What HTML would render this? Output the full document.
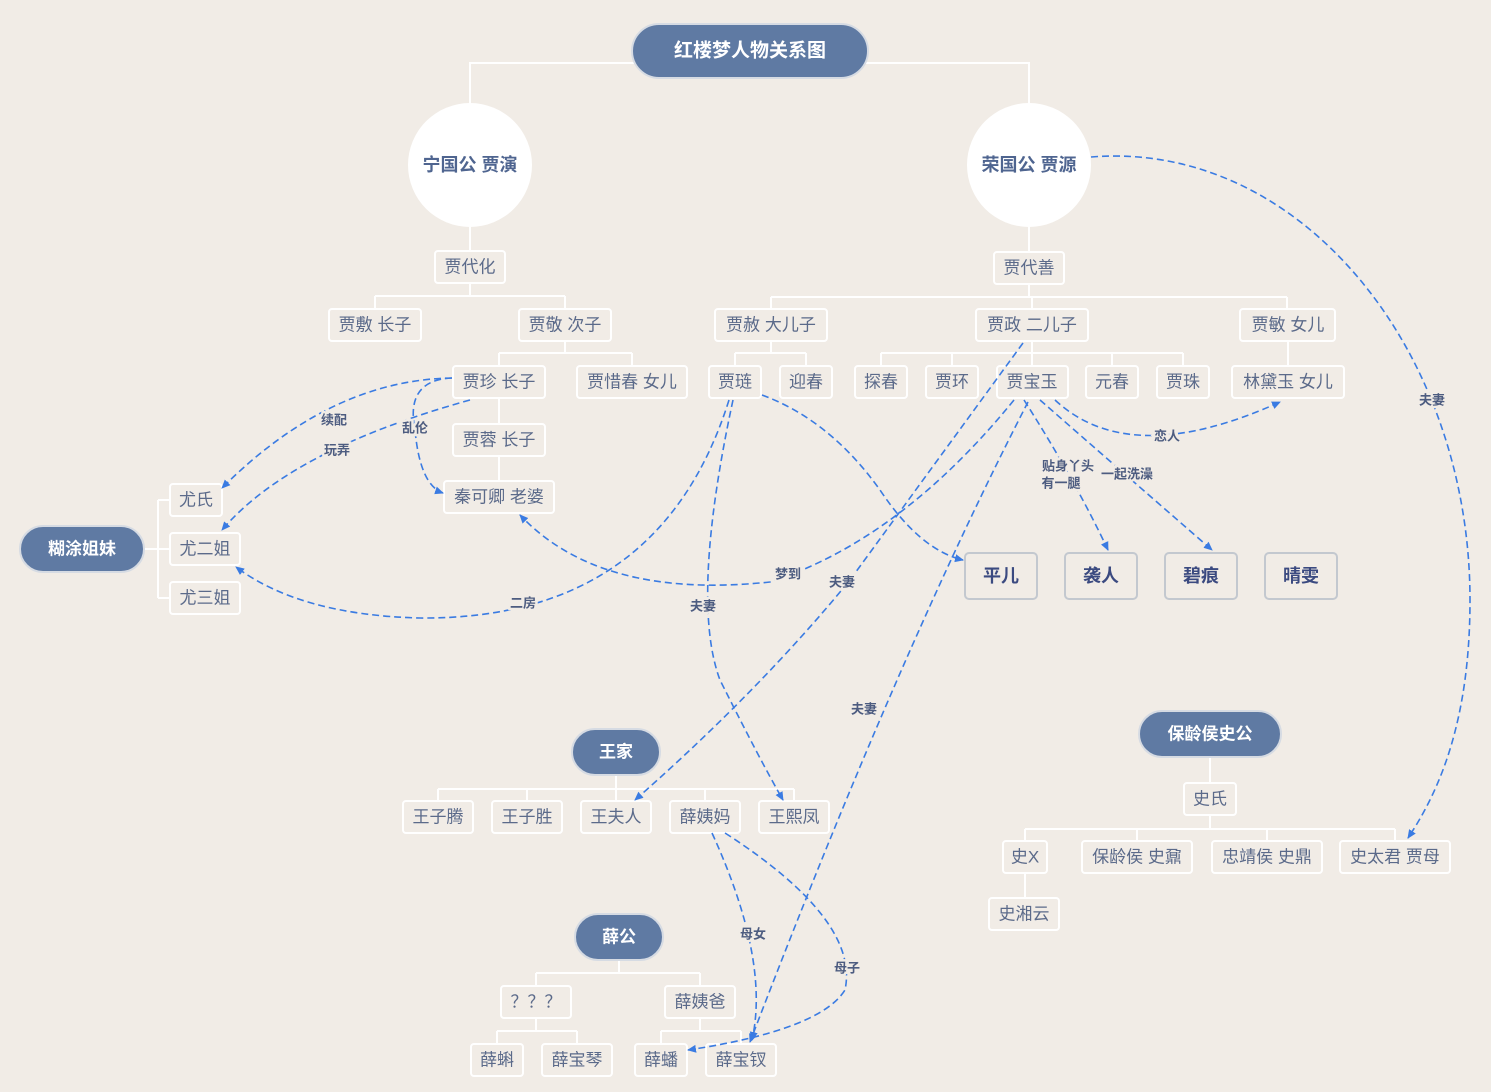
<!DOCTYPE html>
<html><head><meta charset="utf-8"><style>
html,body{margin:0;padding:0;background:#f1ece6;}
svg{display:block;font-family:"Liberation Sans","Noto Sans CJK SC",sans-serif;}
.b{fill:#f1ece6;stroke:#fff;stroke-width:2;}
.t{fill:#5b6a8a;font-size:17px;text-anchor:middle;dominant-baseline:central;}
.big{fill:#f1ece6;stroke:#c3c8cf;stroke-width:2;}
.bt{fill:#3b4a80;font-size:18px;font-weight:bold;text-anchor:middle;dominant-baseline:central;}
.hd{fill:#5f7aa3;stroke:#d6dbe3;stroke-width:2;}
.ht{fill:#fff;font-size:19px;font-weight:bold;text-anchor:middle;dominant-baseline:central;}
.ln{stroke:#fff;stroke-width:2;fill:none;}
.d{stroke:#3a7be2;stroke-width:1.6;fill:none;stroke-dasharray:7,4;}
.lb{fill:#4d5c80;font-size:13px;font-weight:bold;text-anchor:middle;dominant-baseline:central;paint-order:stroke;stroke:#f1ece6;stroke-width:5px;}
</style></head><body>
<svg width="1491" height="1092" viewBox="0 0 1491 1092">
<defs><marker id="a" markerWidth="10" markerHeight="10" refX="8" refY="5" orient="auto" markerUnits="userSpaceOnUse"><path d="M0,1 L9,5 L0,9 Z" fill="#3a7be2"/></marker></defs>
<!-- tree lines -->
<g class="ln">
<path d="M470,103 V63 H1029 V103"/>
<path d="M470,227 V251 M470,283 V296 M375,296 H565 M375,296 V309 M565,296 V309"/>
<path d="M1029,227 V252 M1029,284 V297 M771,297 H1287 M771,297 V309 M1032,297 V309 M1287,297 V309"/>
<path d="M565,341 V353 M499,353 H632 M499,353 V366 M632,353 V366"/>
<path d="M771,341 V353 M735,353 H806 M735,353 V366 M806,353 V366"/>
<path d="M1032,341 V353 M881,353 H1183 M881,353 V366 M952,353 V366 M1032,353 V366 M1112,353 V366 M1183,353 V366"/>
<path d="M1288,341 V366"/>
<path d="M499,398 V424 M499,456 V481"/>
<path d="M144,549 H158 M158,500 V598 M158,500 H170 M158,549 H170 M158,598 H170"/>
<path d="M616,775 V789 M438,789 H794 M438,789 V801 M527,789 V801 M616,789 V801 M705,789 V801 M794,789 V801"/>
<path d="M1210,757 V783 M1210,815 V829 M1025,829 H1395 M1025,829 V841 M1137,829 V841 M1267,829 V841 M1395,829 V841 M1025,873 V898"/>
<path d="M619,960 V973 M536,973 H700 M536,973 V986 M700,973 V986 M536,1018 V1031 M497,1031 H577 M497,1031 V1044 M577,1031 V1044 M700,1018 V1031 M661,1031 H741 M661,1031 V1044 M741,1031 V1044"/>
</g>
<!-- headers -->
<rect class="hd" x="632" y="24" width="236" height="54" rx="27"/><text class="ht" x="750" y="51">红楼梦人物关系图</text>
<circle cx="470" cy="165" r="62" fill="#fff"/><text x="470" y="165" fill="#4f6590" font-size="18" font-weight="bold" text-anchor="middle" dominant-baseline="central">宁国公 贾演</text>
<circle cx="1029" cy="165" r="62" fill="#fff"/><text x="1029" y="165" fill="#4f6590" font-size="18" font-weight="bold" text-anchor="middle" dominant-baseline="central">荣国公 贾源</text>
<rect class="hd" x="20" y="526" width="124" height="46" rx="23"/><text class="ht" x="82" y="549" style="font-size:17px">糊涂姐妹</text>
<rect class="hd" x="572" y="729" width="88" height="46" rx="23"/><text class="ht" x="616" y="752" style="font-size:17px">王家</text>
<rect class="hd" x="1139" y="711" width="142" height="46" rx="23"/><text class="ht" x="1210" y="734" style="font-size:17px">保龄侯史公</text>
<rect class="hd" x="575" y="914" width="88" height="46" rx="23"/><text class="ht" x="619" y="937" style="font-size:17px">薛公</text>
<!-- boxes -->
<g>
<rect class="b" x="435" y="251" width="70" height="32" rx="3"/><text class="t" x="470" y="267">贾代化</text>
<rect class="b" x="994" y="252" width="70" height="32" rx="3"/><text class="t" x="1029" y="268">贾代善</text>
<rect class="b" x="329" y="309" width="92" height="32" rx="3"/><text class="t" x="375" y="325">贾敷 长子</text>
<rect class="b" x="519" y="309" width="92" height="32" rx="3"/><text class="t" x="565" y="325">贾敬 次子</text>
<rect class="b" x="715" y="309" width="112" height="32" rx="3"/><text class="t" x="771" y="325">贾赦 大儿子</text>
<rect class="b" x="976" y="309" width="112" height="32" rx="3"/><text class="t" x="1032" y="325">贾政 二儿子</text>
<rect class="b" x="1240" y="309" width="95" height="32" rx="3"/><text class="t" x="1288" y="325">贾敏 女儿</text>
<rect class="b" x="453" y="366" width="92" height="32" rx="3"/><text class="t" x="499" y="382">贾珍 长子</text>
<rect class="b" x="577" y="366" width="110" height="32" rx="3"/><text class="t" x="632" y="382">贾惜春 女儿</text>
<rect class="b" x="709" y="366" width="52" height="32" rx="3"/><text class="t" x="735" y="382">贾琏</text>
<rect class="b" x="780" y="366" width="52" height="32" rx="3"/><text class="t" x="806" y="382">迎春</text>
<rect class="b" x="855" y="366" width="52" height="32" rx="3"/><text class="t" x="881" y="382">探春</text>
<rect class="b" x="926" y="366" width="52" height="32" rx="3"/><text class="t" x="952" y="382">贾环</text>
<rect class="b" x="997" y="366" width="71" height="32" rx="3"/><text class="t" x="1032" y="382">贾宝玉</text>
<rect class="b" x="1086" y="366" width="52" height="32" rx="3"/><text class="t" x="1112" y="382">元春</text>
<rect class="b" x="1157" y="366" width="52" height="32" rx="3"/><text class="t" x="1183" y="382">贾珠</text>
<rect class="b" x="1232" y="366" width="112" height="32" rx="3"/><text class="t" x="1288" y="382">林黛玉 女儿</text>
<rect class="b" x="453" y="424" width="92" height="32" rx="3"/><text class="t" x="499" y="440">贾蓉 长子</text>
<rect class="b" x="444" y="481" width="110" height="32" rx="3"/><text class="t" x="499" y="497">秦可卿 老婆</text>
<rect class="b" x="170" y="484" width="52" height="32" rx="3"/><text class="t" x="196" y="500">尤氏</text>
<rect class="b" x="170" y="533" width="70" height="32" rx="3"/><text class="t" x="205" y="549">尤二姐</text>
<rect class="b" x="170" y="582" width="70" height="32" rx="3"/><text class="t" x="205" y="598">尤三姐</text>
<rect class="b" x="403" y="801" width="70" height="32" rx="3"/><text class="t" x="438" y="817">王子腾</text>
<rect class="b" x="492" y="801" width="70" height="32" rx="3"/><text class="t" x="527" y="817">王子胜</text>
<rect class="b" x="581" y="801" width="70" height="32" rx="3"/><text class="t" x="616" y="817">王夫人</text>
<rect class="b" x="670" y="801" width="70" height="32" rx="3"/><text class="t" x="705" y="817">薛姨妈</text>
<rect class="b" x="759" y="801" width="70" height="32" rx="3"/><text class="t" x="794" y="817">王熙凤</text>
<rect class="b" x="1184" y="783" width="52" height="32" rx="3"/><text class="t" x="1210" y="799">史氏</text>
<rect class="b" x="1003" y="841" width="44" height="32" rx="3"/><text class="t" x="1025" y="857">史X</text>
<rect class="b" x="1082" y="841" width="110" height="32" rx="3"/><text class="t" x="1137" y="857">保龄侯 史鼐</text>
<rect class="b" x="1212" y="841" width="110" height="32" rx="3"/><text class="t" x="1267" y="857">忠靖侯 史鼎</text>
<rect class="b" x="1340" y="841" width="110" height="32" rx="3"/><text class="t" x="1395" y="857">史太君 贾母</text>
<rect class="b" x="989" y="898" width="70" height="32" rx="3"/><text class="t" x="1024" y="914">史湘云</text>
<rect class="b" x="501" y="986" width="70" height="32" rx="3"/><text class="t" x="536" y="1002">？？？</text>
<rect class="b" x="665" y="986" width="70" height="32" rx="3"/><text class="t" x="700" y="1002">薛姨爸</text>
<rect class="b" x="471" y="1044" width="52" height="32" rx="3"/><text class="t" x="497" y="1060">薛蝌</text>
<rect class="b" x="542" y="1044" width="70" height="32" rx="3"/><text class="t" x="577" y="1060">薛宝琴</text>
<rect class="b" x="635" y="1044" width="52" height="32" rx="3"/><text class="t" x="661" y="1060">薛蟠</text>
<rect class="b" x="706" y="1044" width="70" height="32" rx="3"/><text class="t" x="741" y="1060">薛宝钗</text>
<rect class="big" x="965" y="553" width="72" height="46" rx="4"/><text class="bt" x="1001" y="576">平儿</text>
<rect class="big" x="1065" y="553" width="72" height="46" rx="4"/><text class="bt" x="1101" y="576">袭人</text>
<rect class="big" x="1165" y="553" width="72" height="46" rx="4"/><text class="bt" x="1201" y="576">碧痕</text>
<rect class="big" x="1265" y="553" width="72" height="46" rx="4"/><text class="bt" x="1301" y="576">晴雯</text>
</g>
<!-- dashed relations -->
<g class="d">
<path marker-end="url(#a)" d="M1091,157 C1300,140 1470,350 1470,600 C1470,720 1440,790 1408,838"/>
<path marker-end="url(#a)" d="M452,378 Q330,380 222,488"/>
<path marker-end="url(#a)" d="M470,400 Q290,450 222,530"/>
<path marker-end="url(#a)" d="M452,378 Q405,380 415,430 Q420,485 443,493"/>
<path marker-end="url(#a)" d="M729,400 Q660,620 420,618 Q300,615 236,567"/>
<path marker-end="url(#a)" d="M733,400 Q690,600 720,680 Q760,760 783,800"/>
<path marker-end="url(#a)" d="M762,395 Q830,420 880,490 Q920,550 963,560"/>
<path marker-end="url(#a)" d="M1023,343 L850,580 Q760,690 635,800"/>
<path marker-end="url(#a)" d="M1014,400 Q900,540 770,582 Q600,600 520,515"/>
<path marker-end="url(#a)" d="M1028,402 Q900,650 750,1042"/>
<path marker-end="url(#a)" d="M1024,400 Q1075,480 1108,550"/>
<path marker-end="url(#a)" d="M1040,400 Q1120,470 1212,550"/>
<path marker-end="url(#a)" d="M1055,400 Q1130,470 1280,402"/>
<path marker-end="url(#a)" d="M712,833 Q770,960 752,1040"/>
<path marker-end="url(#a)" d="M725,833 Q860,920 845,990 Q820,1030 688,1050"/>
</g>
<g>
<text class="lb" x="1432" y="400">夫妻</text>
<text class="lb" x="334" y="420">续配</text>
<text class="lb" x="337" y="450">玩弄</text>
<text class="lb" x="415" y="428">乱伦</text>
<text class="lb" x="523" y="603">二房</text>
<text class="lb" x="703" y="606">夫妻</text>
<text class="lb" x="842" y="582">夫妻</text>
<text class="lb" x="788" y="574">梦到</text>
<text class="lb" x="864" y="709">夫妻</text>
<text class="lb" x="1068" y="466">贴身丫头</text>
<text class="lb" x="1061" y="483">有一腿</text>
<text class="lb" x="1127" y="474">一起洗澡</text>
<text class="lb" x="1167" y="436">恋人</text>
<text class="lb" x="753" y="934">母女</text>
<text class="lb" x="847" y="968">母子</text>
</g>
</svg>
</body></html>
